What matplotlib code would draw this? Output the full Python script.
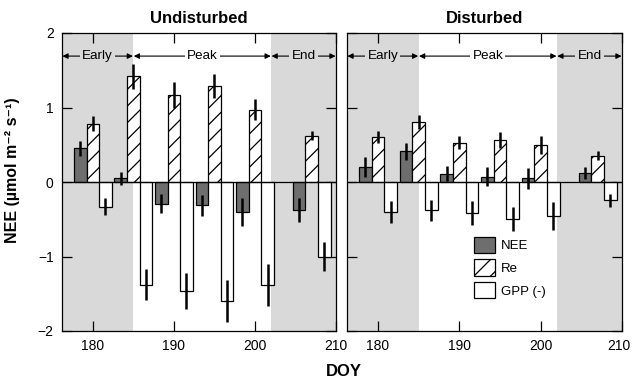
import numpy as np
import matplotlib.pyplot as plt
from matplotlib.transforms import ScaledTranslation

plt.rcParams['font.family'] = ['Liberation Sans', 'DejaVu Sans']
plt.rcParams['hatch.linewidth'] = 0.9

# day of year of each sampling group
doy = [180, 185, 190, 195, 200, 207]

# Undisturbed site
und_nee = [0.45, 0.05, -0.29, -0.31, -0.40, -0.38]
und_nee_err = [0.10, 0.09, 0.13, 0.14, 0.19, 0.16]
und_re = [0.78, 1.42, 1.17, 1.29, 0.97, 0.62]
und_re_err = [0.10, 0.17, 0.17, 0.16, 0.14, 0.06]
und_gpp = [-0.33, -1.38, -1.46, -1.60, -1.38, -1.00]
und_gpp_err = [0.11, 0.21, 0.24, 0.28, 0.28, 0.19]

# Disturbed site
dis_nee = [0.20, 0.41, 0.11, 0.07, 0.05, 0.115]
dis_nee_err = [0.13, 0.11, 0.10, 0.13, 0.14, 0.08]
dis_re = [0.61, 0.80, 0.53, 0.56, 0.50, 0.35]
dis_re_err = [0.08, 0.095, 0.09, 0.11, 0.12, 0.06]
dis_gpp = [-0.405, -0.38, -0.42, -0.495, -0.46, -0.245]
dis_gpp_err = [0.15, 0.14, 0.16, 0.16, 0.19, 0.09]

# phenological periods
periods = ['Early', 'Peak', 'End']
period_edges = [176.2, 185, 202, 210]

shade = '#d9d9d9'
dark = '#6e6e6e'
w = 1.55

fig = plt.figure(figsize=(6.32, 3.84), dpi=100)
ax1 = fig.add_axes([62/632, 1 - 331/384, 274/632, 298/384])
ax2 = fig.add_axes([347/632, 1 - 331/384, 275/632, 298/384])


def draw_panel(ax, nee, nee_err, re, re_err, gpp, gpp_err, title):
    x = np.array(doy, dtype=float)
    ax.axvspan(period_edges[0], period_edges[1], color=shade, lw=0, zorder=0)
    ax.axvspan(period_edges[2], period_edges[3], color=shade, lw=0, zorder=0)
    ekw = dict(ecolor='black', elinewidth=1.8, capsize=0)
    ax.bar(x - w, nee, w, color=dark, edgecolor='black', lw=0.9,
           yerr=nee_err, error_kw=ekw, label='NEE', zorder=2)
    ax.bar(x, re, w, color='white', edgecolor='black', lw=0.9, hatch='//',
           yerr=re_err, error_kw=ekw, label='Re', zorder=2)
    ax.bar(x + w, gpp, w, color='white', edgecolor='black', lw=0.9,
           yerr=gpp_err, error_kw=ekw, label='GPP (-)', zorder=2)
    ax.axhline(0, color='black', lw=0.9, zorder=3)

    # period arrows
    y = 1.69
    for i, name in enumerate(periods):
        a, b = period_edges[i], period_edges[i + 1]
        ax.annotate('', xy=(a + 0.05, y), xytext=(b - 0.05, y),
                    arrowprops=dict(arrowstyle='<|-|>', color='black', lw=0.8,
                                    mutation_scale=8, shrinkA=0, shrinkB=0),
                    zorder=4)
        bg = 'white' if name == 'Peak' else shade
        ax.text((a + b) / 2, y, name, ha='center', va='center', fontsize=9.7,
                bbox=dict(facecolor=bg, edgecolor='none', pad=1.5), zorder=5)

    ax.set_xlim(period_edges[0], period_edges[-1])
    ax.set_ylim(-2, 2)
    ax.set_xticks([180, 190, 200, 210])
    ax.set_yticks([-2, -1, 0, 1, 2])
    ax.set_yticklabels(['\u22122', '\u22121', '0', '1', '2'])
    ax.tick_params(direction='in', top=True, right=True, length=7,
                   width=0.9, labelsize=10, pad=6)
    for s in ax.spines.values():
        s.set_linewidth(0.9)
    ax.set_title(title, fontsize=12, fontweight='bold', pad=7)


draw_panel(ax1, und_nee, und_nee_err, und_re, und_re_err, und_gpp, und_gpp_err,
           'Undisturbed')
draw_panel(ax2, dis_nee, dis_nee_err, dis_re, dis_re_err, dis_gpp, dis_gpp_err,
           'Disturbed')
ax2.tick_params(labelleft=False)

# nudge the last "210" so it stays inside the figure
fig.canvas.draw()
last = ax2.get_xticklabels()[-1]
last.set_transform(last.get_transform() + ScaledTranslation(-3/100, 0, fig.dpi_scale_trans))

ax1.set_ylabel('NEE (\u00b5mol m\u207b\u00b2 s\u207b\u00b9)', fontsize=11.5,
               fontweight='bold')
ax1.yaxis.set_label_coords(-0.155, 0.54)
fig.text(344/632, 1 - 372/384, 'DOY', fontsize=12, fontweight='bold',
         ha='center', va='center')

ax2.legend(loc='lower left', bbox_to_anchor=(0.42, 0.07), frameon=False,
           fontsize=9.5, handlelength=1.6, handleheight=1.5, labelspacing=0.5,
           handletextpad=0.4)

plt.savefig('out.png', dpi=100)
